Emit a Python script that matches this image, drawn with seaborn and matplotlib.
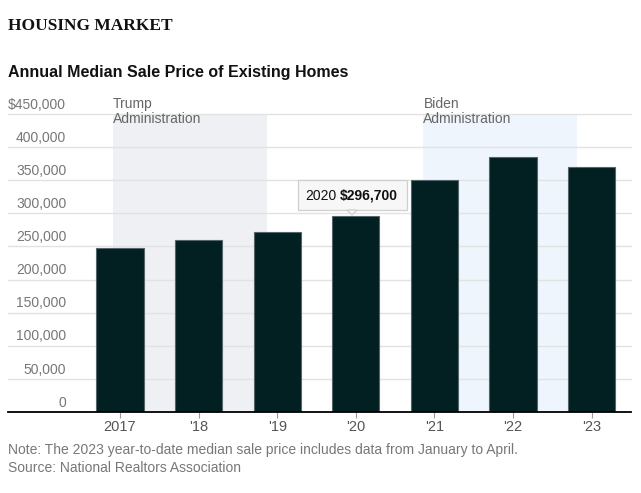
import numpy as np
import pandas as pd
import seaborn as sns
import matplotlib.pyplot as plt
from matplotlib.patches import Rectangle, Polygon

# 年ごとの中央値（ドル）
years = ["2017", "'18", "'19", "'20", "'21", "'22", "'23"]
prices = [247000, 259000, 272000, 296700, 350000, 385000, 370500]
y_ticks = [0, 50000, 100000, 150000, 200000, 250000, 300000, 350000, 400000, 450000]
y_labels = ["0", "50,000", "100,000", "150,000", "200,000", "250,000",
            "300,000", "350,000", "400,000", "$450,000"]

# 政権の期間（棒のインデックス基準）
admins = ["Trump\nAdministration", "Biden\nAdministration"]
admin_start = [-0.09, 3.86]
admin_end = [1.87, 5.81]
admin_colors = ["#eef0f3", "#eff5fd"]

df = pd.DataFrame({"year": years, "price": prices})

sns.set_theme(style="white")
plt.rcParams["font.family"] = ["Liberation Sans", "DejaVu Sans"]

W, H = 641, 493
fig = plt.figure(figsize=(W / 100, H / 100), dpi=100)
ax = fig.add_axes([8 / W, 1 - 412 / H, 623 / W, 298 / H])

# 背景の政権帯
for name, s, e, c in zip(admins, admin_start, admin_end, admin_colors):
    ax.axvspan(s, e, ymin=0, ymax=1, color=c, zorder=0, lw=0)
    ax.text(s, 450000 + 25000, name, ha="left", va="top", fontsize=10,
            color="#666666", linespacing=1.05, zorder=3)

# グリッド線
for t in y_ticks[1:]:
    ax.axhline(t, color="#e2e2e2", lw=1, zorder=1, clip_on=False)

sns.barplot(data=df, x="year", y="price", color="#021f21", width=0.6,
            edgecolor="#55666a", linewidth=0.8, saturation=1, ax=ax, zorder=2)

ax.set_xlim(-1.425, 6.5)
ax.set_ylim(0, 450000)
ax.set_yticks([])
ax.set_xlabel("")
ax.set_ylabel("")
for sp in ["top", "right", "left"]:
    ax.spines[sp].set_visible(False)
ax.spines["bottom"].set_color("black")
ax.spines["bottom"].set_linewidth(1.3)
ax.spines["bottom"].set_zorder(4)

# y軸ラベル（プロット内側、線の上）
for t, lab in zip(y_ticks, y_labels):
    ax.text(-0.685, t + 3500, lab, ha="right", va="bottom", fontsize=10,
            color="#777777")

ax.tick_params(axis="x", bottom=True, length=4, width=0.8, color="#999999",
               labelsize=10.5, labelcolor="#555555", pad=2)

# ツールチップ（ピクセル座標で箱を描く）
fig.add_artist(Rectangle((298 / W, 1 - 210 / H), 109 / W, 30 / H,
                         transform=fig.transFigure, fc="#f7f7f7", ec="#cfcfcf",
                         lw=0.9, zorder=5))
fig.add_artist(Polygon([[347 / W, 1 - 210 / H], [357 / W, 1 - 210 / H],
                        [352 / W, 1 - 215 / H]], closed=True,
                       transform=fig.transFigure, fc="#f7f7f7", ec="#cfcfcf",
                       lw=0.9, zorder=5))
fig.text(305 / W, 1 - 200 / H, "2020", fontsize=10, color="#111111",
         va="baseline", ha="left", zorder=6)
fig.text(340 / W, 1 - 200 / H, "$296,700", fontsize=10, color="#111111",
         fontweight="bold", va="baseline", ha="left", zorder=6)

# タイトル
fig.text(8 / W, 1 - 26 / H, "HOUSING MARKET", fontsize=12.5, fontweight="bold",
         family=["Liberation Serif", "DejaVu Serif"], color="#111111", va="center")
fig.text(8 / W, 1 - 73 / H, "Annual Median Sale Price of Existing Homes",
         fontsize=11.5, fontweight="bold", color="#111111", va="center")

# 注記
fig.text(8 / W, 1 - 450 / H,
         "Note: The 2023 year-to-date median sale price includes data from January to April.",
         fontsize=10, color="#777777", va="center")
fig.text(8 / W, 1 - 468 / H, "Source: National Realtors Association",
         fontsize=10, color="#777777", va="center")

fig.savefig("out.png", dpi=100)
